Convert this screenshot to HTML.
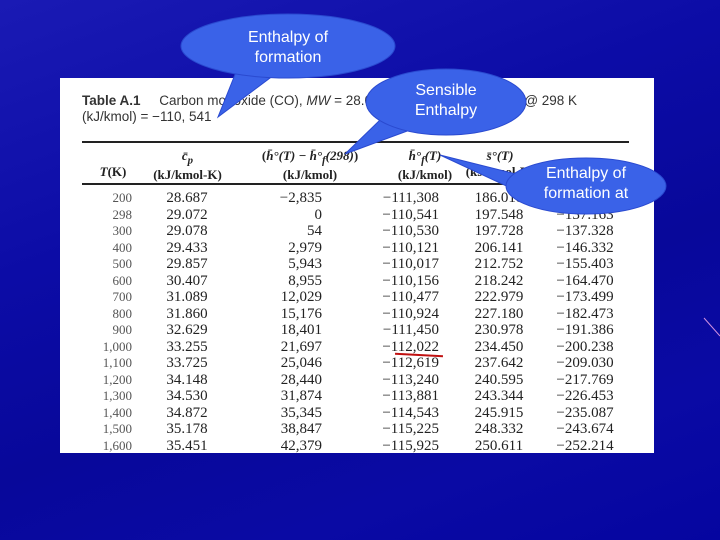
<!DOCTYPE html>
<html><head><meta charset="utf-8"><style>
body{margin:0;width:720px;height:540px;overflow:hidden;background:#0a0a9c;font-family:"Liberation Serif",serif;}
#bg{position:absolute;left:0;top:0;width:720px;height:540px;background:linear-gradient(160deg,#1a1ab4 0%,#0c0ca6 35%,#08089a 60%,#0a0aa4 80%,#0505a0 100%);}
#panel{position:absolute;left:60px;top:78px;width:594px;height:375px;background:#fff;}
.t{position:absolute;white-space:nowrap;font-size:15px;color:#222;line-height:16px;}
.h{position:absolute;white-space:nowrap;font-size:13px;font-weight:bold;color:#222;text-align:center;}
.cap{position:absolute;font-family:"Liberation Sans",sans-serif;font-size:13.5px;color:#333;white-space:nowrap;}
.call{position:absolute;font-family:"Liberation Sans",sans-serif;font-size:16px;color:#fff;text-align:center;line-height:20px;}
</style></head><body>
<div id="bg"></div>
<div id="panel">
 <div class="cap" style="left:22px;top:15px"><b>Table A.1</b>&nbsp;&nbsp;&nbsp;&nbsp;&nbsp;Carbon monoxide (CO), <i>MW</i> = 28.010, enthalpy of formation @ 298 K</div>
 <div class="cap" style="left:22px;top:31px">(kJ/kmol) = −110, 541</div>
 <div style="position:absolute;left:22px;top:63px;width:547px;height:1.5px;background:#222"></div>
 <div style="position:absolute;left:22px;top:105px;width:547px;height:1.5px;background:#222"></div>
 <div class="h" style="left:30px;top:86px;width:46px"><i>T</i>(K)</div>
 <div class="h" style="left:80px;top:70px;width:95px"><i>c̄<sub>p</sub></i><br>(kJ/kmol-K)</div>
 <div class="h" style="left:180px;top:70px;width:140px">(<i>h̄°(T) − h̄°<sub>f</sub>(298)</i>)<br>(kJ/kmol)</div>
 <div class="h" style="left:325px;top:70px;width:80px"><i>h̄°<sub>f</sub>(T)</i><br>(kJ/kmol)</div>
 <div class="h" style="left:400px;top:70px;width:80px"><i>s̄°(T)</i><br>(kJ/kmol-K)</div>
 <div id="rows"></div>
 <div style="position:absolute;left:335px;top:276px;width:48px;height:2px;background:#c01010;transform:rotate(3deg)"></div>
</div>
<svg width="720" height="540" style="position:absolute;left:0;top:0">
 <g fill="#3a62e8" stroke="#2a4ad0" stroke-width="1">
  <path d="M236 72 L218 117 L270 78 Z"/>
  <ellipse cx="288" cy="46" rx="107" ry="32"/>
  <path d="M380 120 L345 154 L410 130 Z"/>
  <ellipse cx="446" cy="102" rx="80" ry="33"/>
  <path d="M440 155 L520 175 L515 190 Z"/>
  <ellipse cx="586" cy="186" rx="80" ry="28"/>
 </g>
 <line x1="704" y1="318" x2="720" y2="336" stroke="#d090e0" stroke-width="1"/>
</svg>
<div class="call" style="left:188px;top:28px;width:200px">Enthalpy of<br>formation</div>
<div class="call" style="left:366px;top:81px;width:160px">Sensible<br>Enthalpy</div>
<div class="call" style="left:506px;top:164px;width:160px">Enthalpy of<br>formation at</div>
<script>
const temps=["200","298","300","400","500","600","700","800","900","1,000","1,100","1,200","1,300","1,400","1,500","1,600"];
const cp=["28.687","29.072","29.078","29.433","29.857","30.407","31.089","31.860","32.629","33.255","33.725","34.148","34.530","34.872","35.178","35.451"];
const sens=["−2,835","0","54","2,979","5,943","8,955","12,029","15,176","18,401","21,697","25,046","28,440","31,874","35,345","38,847","42,379"];
const hf=["−111,308","−110,541","−110,530","−110,121","−110,017","−110,156","−110,477","−110,924","−111,450","−112,022","−112,619","−113,240","−113,881","−114,543","−115,225","−115,925"];
const sv=["186.018","197.548","197.728","206.141","212.752","218.242","222.979","227.180","230.978","234.450","237.642","240.595","243.344","245.915","248.332","250.611"];
const gv=["−128.266","−137.163","−137.328","−146.332","−155.403","−164.470","−173.499","−182.473","−191.386","−200.238","−209.030","−217.769","−226.453","−235.087","−243.674","−252.214"];
const cols=[[temps,72,'r'],[cp,127,'c'],[sens,262,'r'],[hf,379,'r'],[sv,439,'c'],[gv,525,'c']];
const rows=document.getElementById('rows');
function rowY(i){return 112+i*16.5;}
cols.forEach(([arr,x,al],ci)=>{
 arr.forEach((v,i)=>{
  const d=document.createElement('div');
  
  
  d.className='t';
  d.textContent=v;
  d.style.top=rowY(i)+'px';
  if(al==='r'){d.style.right=(594-x)+'px';}
  else{d.style.left=(x-30)+'px';d.style.width='60px';d.style.textAlign='center';}
  if(ci===0){d.style.fontSize='13px';d.style.color='#555';}
  rows.appendChild(d);
 });
});
</script>
</body></html>
